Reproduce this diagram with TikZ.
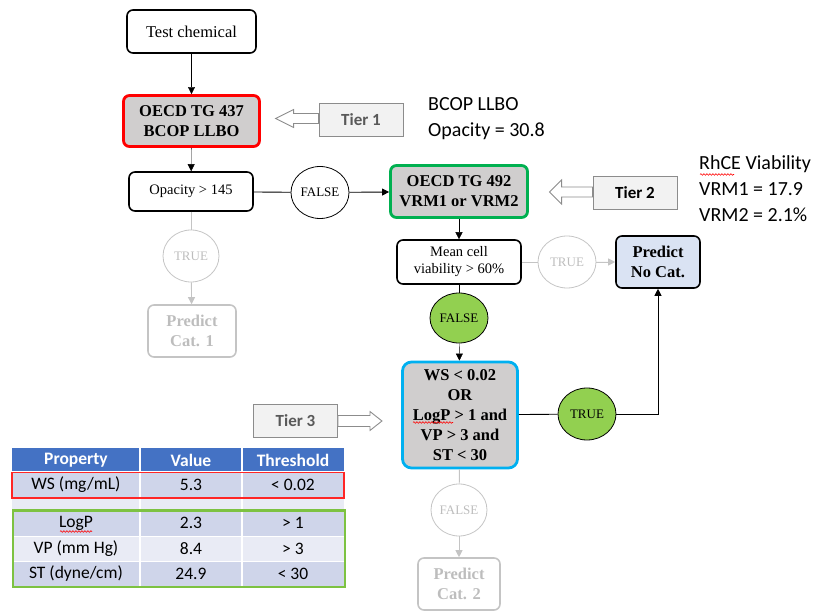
\documentclass[tikz,border=0pt]{standalone}
\usepackage{fontspec}
\setmainfont{Liberation Serif}
\newfontfamily\calibri{Carlito}
\usetikzlibrary{arrows.meta,shapes.geometric,decorations.pathmorphing}

\definecolor{boxgray}{HTML}{D0CECE}
\definecolor{faded}{HTML}{C4C4C4}
\definecolor{fadedtext}{HTML}{BDBDBD}
\definecolor{tierfill}{HTML}{F2F2F2}
\definecolor{tierline}{HTML}{8C8C8C}
\definecolor{tiertext}{HTML}{595959}
\definecolor{okgreen}{HTML}{00B050}
\definecolor{limegreen}{HTML}{92D050}
\definecolor{skyblue}{HTML}{00B0F0}
\definecolor{paleblue}{HTML}{DAE3F3}
\definecolor{hdrblue}{HTML}{4472C4}
\definecolor{rowdark}{HTML}{CFD5EA}
\definecolor{rowlight}{HTML}{E9EBF5}
\definecolor{tblgreen}{HTML}{7DC242}

\tikzset{
  tip/.style={-{Triangle[length=7pt,width=7pt]}},
  flowbox/.style={draw, rounded corners=6pt, line width=1.6pt, align=center,
    inner sep=0pt, font=\fontsize{16.5}{20}\selectfont\bfseries},
  plainbox/.style={flowbox, font=\fontsize{14.5}{17}\selectfont},
  decision/.style={draw, ellipse, line width=0.8pt, inner sep=0pt,
    minimum width=58pt, minimum height=52pt, font=\fontsize{13}{15}\selectfont},
  fadedbox/.style={flowbox, draw=faded, text=fadedtext},
  fadeddecision/.style={decision, draw=faded, text=fadedtext},
  fadedline/.style={draw=faded, line width=0.9pt},
  tierbox/.style={draw=tierline, fill=tierfill, line width=0.9pt,
    minimum width=84pt, minimum height=33pt, inner sep=0pt,
    font=\calibri\fontsize{17}{20}\selectfont\bfseries},
  hollow/.style={draw=tierline, fill=white, line width=0.9pt},
  note/.style={align=left, anchor=north west, inner sep=0pt,
    font=\calibri\fontsize{20}{26}\selectfont},
  cell/.style={inner sep=0pt, font=\calibri\fontsize{17.5}{20}\selectfont},
  hdr/.style={cell, text=white, font=\calibri\fontsize{17.5}{20}\selectfont\bfseries},
  spell/.style={draw=red, line width=0.6pt,
    decorate, decoration={snake, amplitude=0.8pt, segment length=3pt}},
}

\begin{document}
\begin{tikzpicture}[x=1pt,y=-1pt]
\useasboundingbox (0,0) rectangle (820,612);

% ---------- tier 1 : BCOP ----------
\node[plainbox, minimum width=129pt, minimum height=43pt,
      font=\fontsize{16.5}{20}\selectfont] (test) at (191.5,31.5) {Test chemical};
\node[flowbox, draw=red, line width=2.8pt, fill=boxgray,
      minimum width=136pt, minimum height=51pt] (tg437) at (191.5,121)
      {OECD TG 437\\BCOP LLBO};
\node[plainbox, minimum width=124pt, minimum height=39pt] (opac) at (191,191.5)
      {Opacity > 145};
\node[decision] (f1) at (320,192.5) {FALSE};
\node[fadeddecision, minimum width=56pt] (t1) at (191,256) {TRUE};
\node[fadedbox, minimum width=88pt, minimum height=52pt] (cat1) at (192,331)
      {Predict\\Cat. 1};

\draw[tip] (test) -- (tg437);
\draw[tip] (tg437) -- (opac);
\draw[line width=0.9pt] (opac) -- (f1);
\draw[fadedline] (opac) -- (t1);
\draw[fadedline, -{Triangle[length=7pt,width=7pt]}, fill=faded] (t1) -- (cat1);

% ---------- tier 2 : RhCE ----------
\node[flowbox, draw=okgreen, line width=2.8pt, fill=boxgray,
      minimum width=137pt, minimum height=52pt] (tg492) at (459,191.5)
      {OECD TG 492\\VRM1 or VRM2};
\node[plainbox, minimum width=124pt, minimum height=44pt] (mean) at (459,262)
      {Mean cell\\viability > 60\%};
\node[fadeddecision] (t2) at (567,262) {TRUE};
\node[flowbox, fill=paleblue, minimum width=84pt, minimum height=52pt]
      (nocat) at (658,262) {Predict\\No Cat.};
\node[decision, fill=limegreen, minimum height=50pt] (f2) at (459,318) {FALSE};

\draw[tip, line width=0.9pt] (f1) -- (tg492);
\draw[tip] (tg492) -- (mean);
\draw[fadedline] (mean) -- (t2);
\draw[fadedline, -{Triangle[length=7pt,width=7pt]}, fill=faded] (t2) -- (nocat);
\draw[line width=0.9pt] (mean) -- (f2);

% ---------- tier 3 : physicochemical properties ----------
\node[flowbox, draw=skyblue, line width=2.8pt, fill=boxgray, rounded corners=9pt,
      minimum width=115pt, minimum height=106pt] (ws) at (460,415)
      {WS < 0.02\\OR\\LogP > 1 and\\VP > 3 and\\ST < 30};
\node[decision, fill=limegreen] (t3) at (587,414) {TRUE};
\node[fadeddecision, minimum width=56pt] (f3) at (459,510) {FALSE};
\node[fadedbox, minimum width=82pt, minimum height=52pt] (cat2) at (459,584)
      {Predict\\Cat. 2};

\draw[tip] (f2) -- (ws);
\draw[line width=0.9pt] (ws) -- (t3);
\draw[tip, line width=0.9pt] (t3) -| (nocat);
\draw[fadedline] (ws) -- (f3);
\draw[fadedline, -{Triangle[length=7pt,width=7pt]}, fill=faded] (f3) -- (cat2);

% ---------- tier labels with hollow block arrows ----------
\node[tierbox, text=tiertext] (tier1) at (361,119.5) {Tier 1};
\node[tierbox, text=black]    (tier2) at (635,193)   {Tier 2};
\node[tierbox, text=tiertext] (tier3) at (295.5,421) {Tier 3};

\draw[hollow] ([yshift=1pt]tier1.west) ++(0,-5) -- ++(-25,0) -- ++(0,-4)
  -- ++(-18,9) -- ++(18,9) -- ++(0,-4) -- ++(25,0) -- cycle;
\draw[hollow] ([yshift=1pt]tier2.west) ++(0,-5) -- ++(-31,0) -- ++(0,-7)
  -- ++(-12,12) -- ++(12,12) -- ++(0,-7) -- ++(31,0) -- cycle;
\draw[hollow] (tier3.east) ++(0,-5.5) -- ++(32,0) -- ++(0,-4)
  -- ++(12,9.5) -- ++(-12,9.5) -- ++(0,-4) -- ++(-32,0) -- cycle;

% ---------- measured values ----------
\node[note] (bcop) at (428,97) {BCOP LLBO\\Opacity = 30.8};
\node[note] (rhce) at (699,155) {RhCE Viability\\VRM1 = 17.9\\VRM2 = 2.1\%};
\draw[spell] (700,174.5) -- (734,174.5);

% ---------- property table ----------
\fill[hdrblue]  (12,448) rectangle (344,471);
\fill[rowdark]  (12,471) rectangle (344,498);
\fill[rowlight] (12,498) rectangle (344,510);
\fill[rowdark]  (12,510) rectangle (344,536);
\fill[rowlight] (12,536) rectangle (344,561);
\fill[rowdark]  (12,561) rectangle (344,586);
\foreach \y in {471,498,510,536,561}
  \draw[white, line width=1pt] (12,\y) -- (344,\y);
\foreach \x in {140,242}
  \draw[white, line width=1.5pt] (\x,448) -- (\x,586);
\draw[red!85!white, line width=1.6pt] (12,472.5) rectangle (344,498);
\draw[tblgreen, line width=2.5pt] (13,510.5) rectangle (345,587);

\node[hdr]  (hprop) at (76,460)  {Property};
\node[hdr]  (hval)  at (191,460) {Value};
\node[hdr]  (hthr)  at (293,460) {Threshold};
\node[cell] (pws)   at (76,485)  {WS (mg/mL)};
\node[cell] (vws)   at (191,485) {5.3};
\node[cell] (tws)   at (293,485) {< 0.02};
\node[cell] (plogp) at (76,523)  {LogP};
\node[cell] (vlogp) at (191,523) {2.3};
\node[cell] (tlogp) at (293,523) {> 1};
\node[cell] (pvp)   at (76,548.5)  {VP (mm Hg)};
\node[cell] (vvp)   at (191,548.5) {8.4};
\node[cell] (tvp)   at (293,548.5) {> 3};
\node[cell] (pst)   at (76,573.5)  {ST (dyne/cm)};
\node[cell] (vst)   at (191,573.5) {24.9};
\node[cell] (tst)   at (293,573.5) {< 30};
\draw[spell] (60,531.5) -- (92,531.5);
\draw[spell] (413,422.5) -- (453,422.5);
\end{tikzpicture}
\end{document}
